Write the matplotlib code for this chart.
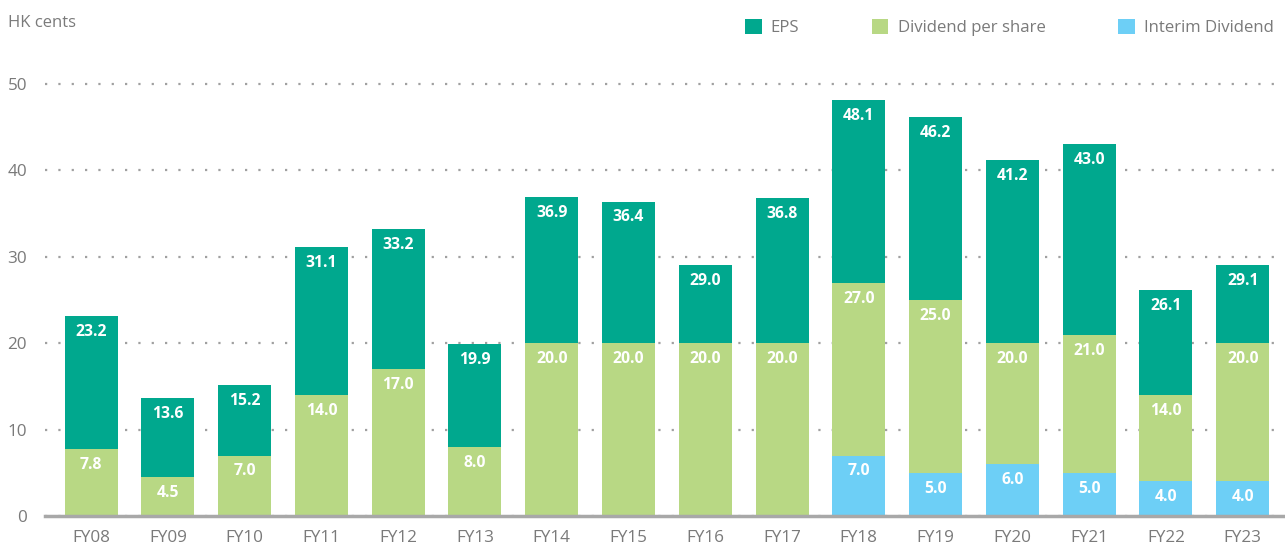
import numpy as np
import matplotlib.pyplot as plt

plt.rcParams['font.family'] = ['Open Sans', 'DejaVu Sans']

years = ['FY08', 'FY09', 'FY10', 'FY11', 'FY12', 'FY13', 'FY14', 'FY15',
         'FY16', 'FY17', 'FY18', 'FY19', 'FY20', 'FY21', 'FY22', 'FY23']
eps = [23.2, 13.6, 15.2, 31.1, 33.2, 19.9, 36.9, 36.4,
       29.0, 36.8, 48.1, 46.2, 41.2, 43.0, 26.1, 29.1]
dps = [7.8, 4.5, 7.0, 14.0, 17.0, 8.0, 20.0, 20.0,
       20.0, 20.0, 27.0, 25.0, 20.0, 21.0, 14.0, 20.0]
interim = [None, None, None, None, None, None, None, None,
           None, None, 7.0, 5.0, 6.0, 5.0, 4.0, 4.0]

c_eps = '#00a88e'
c_dps = '#b8d884'
c_int = '#6dcff6'
grey = '#7a7a7a'

fig = plt.figure(figsize=(12.85, 5.44), dpi=100)
ax = fig.add_axes([0.035, 0.0515, 0.965, 0.802])

x = np.arange(len(years))
w = 0.69

ax.bar(x, eps, w, color=c_eps, zorder=3, label='EPS')
ax.bar(x, dps, w, color=c_dps, zorder=4, label='Dividend per share')
xi = [i for i, v in enumerate(interim) if v is not None]
vi = [v for v in interim if v is not None]
ax.bar(xi, vi, w, color=c_int, zorder=5, label='Interim Dividend')

def put_labels(xs, vals):
    for xx, v in zip(xs, vals):
        ax.annotate(f'{v:.1f}', (xx, v), xytext=(0, -11.5), textcoords='offset points',
                    ha='center', va='center', color='white', fontsize=11.3,
                    fontweight='bold', zorder=6)

put_labels(x, eps)
put_labels(x, dps)
put_labels(xi, vi)

ax.set_xlim(-0.6, 15.55)
ax.set_ylim(0, 50.5)
ax.set_yticks([0, 10, 20, 30, 40, 50])
ax.set_xticks(x)
ax.set_xticklabels(years)
ax.tick_params(axis='both', length=0, colors=grey, labelsize=12.3)
ax.tick_params(axis='x', pad=10)
ax.tick_params(axis='y', pad=13)
for s in ['top', 'right', 'left']:
    ax.spines[s].set_visible(False)
ax.spines['bottom'].set_color('#a8a8a8')
ax.spines['bottom'].set_linewidth(2.5)
ax.spines['bottom'].set_zorder(7)
ax.yaxis.grid(True, linestyle=(0, (1, 5)), color='#a0a0a0', linewidth=1.6, zorder=0)
ax.set_axisbelow(True)

fig.text(0.006, 0.957, 'HK cents', color=grey, fontsize=12, va='center')

leg = fig.legend(loc='center right', bbox_to_anchor=(1.003, 0.95), ncol=3, frameon=False,
                 fontsize=12.1, handlelength=1.0, handleheight=1.0, columnspacing=4.3,
                 handletextpad=0.55)
for t in leg.get_texts():
    t.set_color(grey)

fig.savefig('out.png', dpi=100)
